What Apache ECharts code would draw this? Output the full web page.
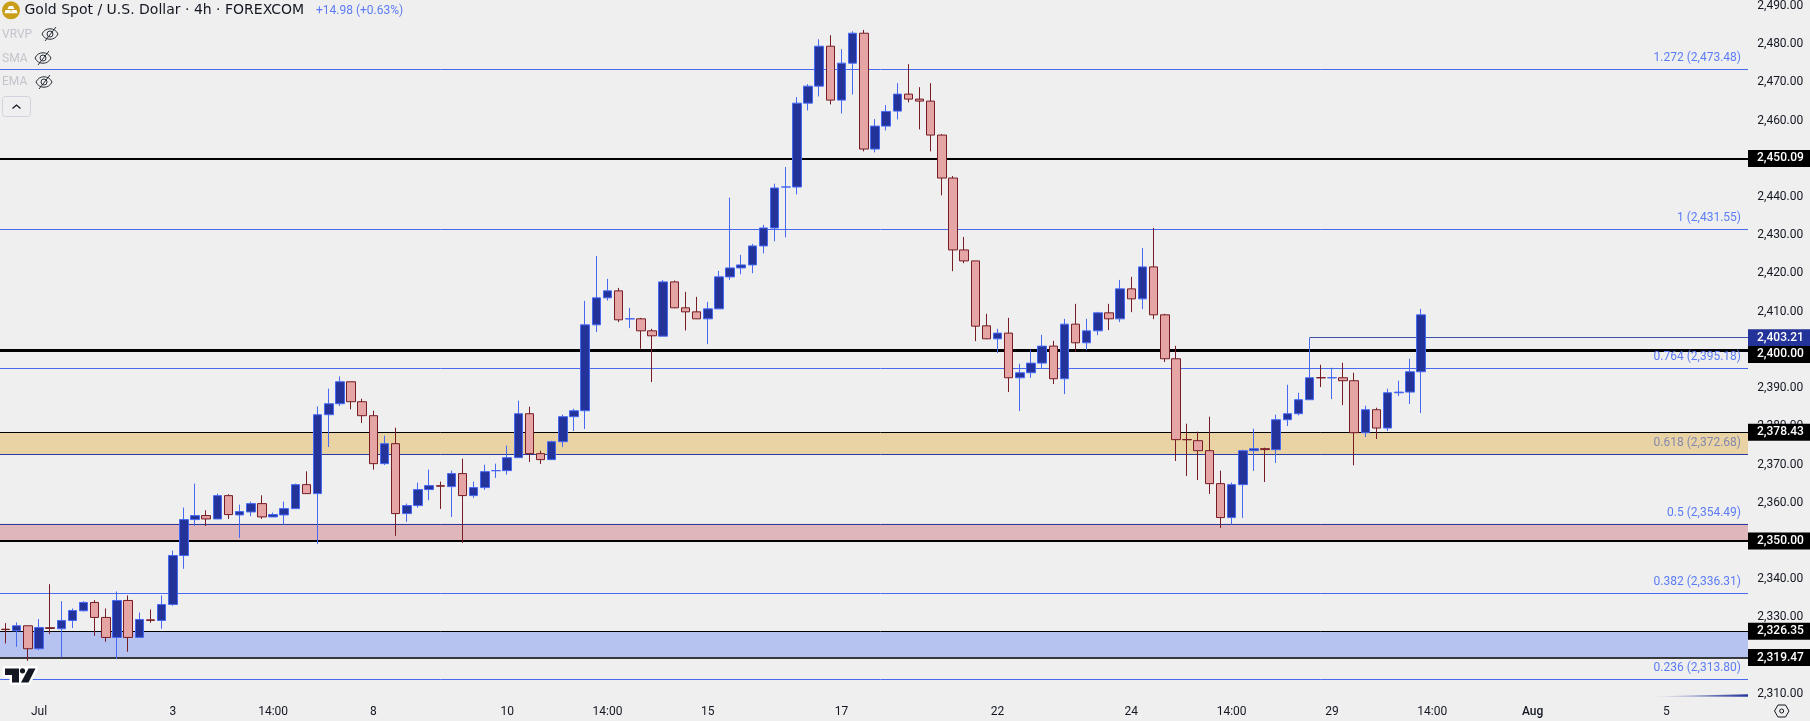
<!DOCTYPE html>
<html><head><meta charset="utf-8">
<style>html,body{margin:0;padding:0;background:#efefef;overflow:hidden}#c{width:1810px;height:721px}</style>
<script src="https://cdn.jsdelivr.net/npm/echarts@6/dist/echarts.min.js"></script>
</head><body><div id="c"></div>
<script>
const opens=[2326.90,2326.49,2327.80,2321.79,2327.30,2327.01,2329.19,2331.72,2333.90,2329.98,
2324.75,2334.42,2324.75,2329.35,2329.19,2333.37,2346.18,2355.59,2356.64,2355.76,
2361.86,2356.81,2357.59,2359.77,2356.29,2356.81,2358.46,2364.74,2362.39,2383.04,
2385.91,2391.66,2386.44,2382.78,2370.23,2375.46,2357.16,2359.26,2363.44,2364.45,
2364.22,2367.62,2361.87,2363.96,2368.36,2368.40,2371.80,2383.30,2372.85,2371.28,
2375.98,2382.52,2384.08,2406.56,2413.62,2415.45,2408.10,2408.13,2404.99,2403.59,
2417.80,2411.01,2409.96,2408.13,2410.74,2419.10,2421.46,2422.24,2427.21,2431.91,
2442.60,2442.63,2464.58,2469.03,2479.48,2465.37,2475.04,2482.88,2452.56,2458.57,
2462.49,2466.94,2465.63,2465.11,2456.22,2444.98,2426.16,2423.29,2406.30,2402.90,
2404.39,2392.71,2394.02,2396.54,2400.99,2392.45,2406.74,2401.86,2404.99,2409.70,
2408.13,2415.97,2413.36,2421.72,2409.18,2397.68,2376.55,2376.24,2373.63,2365.00,
2356.12,2364.74,2373.63,2374.15,2373.89,2381.73,2383.30,2386.96,2392.74,2392.68,
2392.71,2391.93,2378.33,2384.35,2379.55,2388.78,2388.96,2394.28];
const closes=[2326.80,2327.80,2321.79,2327.36,2327.10,2329.19,2331.80,2333.90,2329.98,2324.75,
2334.42,2324.75,2329.45,2329.20,2333.37,2346.18,2355.59,2356.64,2355.76,2361.86,
2356.90,2357.68,2359.77,2356.29,2356.90,2358.46,2364.74,2362.39,2383.03,2385.91,
2391.66,2386.44,2382.78,2370.23,2375.46,2357.16,2359.26,2363.44,2364.48,2364.33,
2367.62,2361.87,2363.96,2368.14,2368.44,2371.80,2383.30,2372.85,2371.28,2375.98,
2382.52,2384.08,2406.56,2413.62,2415.45,2407.87,2408.16,2404.99,2403.69,2417.80,
2411.01,2409.96,2408.13,2410.74,2419.11,2421.46,2422.24,2427.21,2431.91,2442.37,
2442.66,2464.58,2469.03,2479.48,2465.37,2475.04,2482.88,2452.56,2458.57,2462.40,
2466.94,2465.63,2465.11,2456.22,2444.98,2426.16,2423.29,2406.21,2402.90,2404.39,
2392.71,2394.02,2396.54,2400.99,2392.45,2406.74,2401.86,2404.99,2409.70,2408.13,
2415.97,2413.36,2421.72,2409.18,2397.68,2376.51,2376.47,2373.63,2365.00,2356.12,
2364.74,2373.63,2374.15,2373.90,2381.73,2383.30,2386.96,2392.71,2392.68,2392.74,
2391.93,2378.33,2384.35,2379.55,2388.79,2388.95,2394.28,2409.18];
const lows=[2323.18,2322.31,2318.65,2321.44,2325.62,2319.52,2327.19,2331.54,2325.18,2323.62,
2319.08,2321.00,2324.75,2328.58,2327.01,2333.02,2342.70,2353.93,2353.93,2355.76,
2355.76,2350.80,2356.46,2355.76,2356.29,2354.28,2358.46,2362.39,2349.23,2374.59,
2385.30,2384.43,2380.86,2368.66,2369.88,2351.33,2354.99,2358.73,2360.65,2358.38,
2356.29,2349.50,2361.26,2363.35,2366.49,2367.36,2371.80,2370.67,2370.14,2371.28,
2374.59,2378.77,2379.29,2404.65,2412.92,2407.26,2405.69,2400.29,2391.58,2403.59,
2410.92,2405.08,2408.13,2401.51,2410.74,2418.32,2419.80,2420.06,2425.29,2428.43,
2429.47,2440.71,2462.67,2466.33,2464.23,2461.88,2466.85,2451.95,2451.69,2457.44,
2460.31,2464.76,2457.70,2451.95,2440.45,2420.59,2422.68,2402.29,2402.82,2399.16,
2388.96,2384.00,2392.71,2395.06,2391.06,2388.44,2399.59,2399.94,2403.86,2405.17,
2407.26,2409.87,2410.66,2408.04,2396.81,2370.93,2367.01,2365.96,2362.30,2353.42,
2354.29,2356.03,2368.32,2365.44,2370.41,2380.08,2382.86,2386.96,2390.27,2387.13,
2385.57,2369.80,2377.20,2376.68,2378.77,2387.92,2385.83,2383.47];
const highs=[2328.49,2328.67,2327.80,2329.54,2338.69,2334.24,2332.33,2334.24,2334.51,2332.33,
2336.77,2335.73,2331.28,2332.07,2335.73,2347.49,2358.73,2365.00,2358.03,2362.39,
2362.21,2359.51,2360.29,2361.95,2357.42,2360.29,2365.00,2368.22,2385.21,2389.84,
2393.06,2391.66,2387.22,2384.08,2377.55,2379.64,2359.78,2365.27,2368.66,2365.53,
2368.40,2371.54,2365.53,2369.97,2370.23,2374.94,2386.70,2385.13,2373.63,2376.24,
2383.04,2384.61,2412.84,2424.60,2418.59,2416.23,2411.01,2408.39,2405.52,2418.32,
2418.15,2415.19,2413.88,2412.57,2420.68,2439.84,2424.86,2427.73,2432.70,2443.50,
2447.86,2466.15,2469.55,2481.31,2482.36,2478.70,2483.40,2483.75,2460.40,2464.06,
2469.81,2474.78,2468.76,2469.81,2456.48,2445.50,2429.56,2423.29,2409.44,2405.52,
2408.39,2396.37,2400.03,2403.95,2402.38,2408.13,2412.05,2408.13,2409.96,2412.05,
2418.32,2419.11,2426.69,2431.92,2409.44,2401.07,2380.69,2378.60,2382.52,2368.40,
2365.27,2373.89,2379.38,2374.41,2383.04,2390.88,2388.79,2403.21,2396.11,2395.32,
2396.63,2394.02,2385.39,2384.87,2389.84,2391.93,2397.68,2410.74];
const slotCount=158;
const timeTickSlots=[3,15,24,33,45,54,63,75,89,101,110,119,128,137,149];
const timeTickLabels=['Jul','3','14:00','8','10','14:00','15','17','22','24','14:00','29','14:00','Aug','5'];
const priceTicks=[2490,2480,2470,2460,2450,2440,2430,2420,2410,2400,2390,2380,2370,2360,2350,2340,2330,2320,2310];
const fibLevels=[1.272,1,0.764,0.618,0.5,0.382,0.236];
const fibPrices=[2473.48,2431.55,2395.18,2372.68,2354.49,2336.31,2313.80];
const levelPrices=[2450.09,2400.00,2378.43,2350.00,2326.35,2319.47];
const swingHigh=2403.21;
const swingSlot=117;
const bandEdges=[[2378.43,2372.68],[2354.49,2350.00],[2326.35,2319.47]];

const W=1748, H=697, BW=11.173, L=1.33-BW/2, GW=slotCount*BW, GR=L+GW, OVER=GR-W;
const BG='#efefef', FIB='#4a69f2', DARKFIB='#2a3a9e';
const cats=Array.from({length:slotCount},(_,i)=>{const k=timeTickSlots.indexOf(i);return k>=0?timeTickLabels[k]:'';});
const candles=opens.map((o,i)=>[o,closes[i],lows[i],highs[i]]);
const fmt=v=>v.toLocaleString('en-US',{minimumFractionDigits:2,maximumFractionDigits:2});
const bandColors=['#e9d3a5','#dfb6ba','#b6c2ef'];
const levelWidths=[2,3,1,2,1,1.5];

const chart=echarts.init(document.getElementById('c'),null,{renderer:'canvas'});
function hline(v,color,width,label){
  return {yAxis:v,lineStyle:{color,width,type:'solid',opacity:1},label:label||{show:false}};
}
const fibLines=fibPrices.map((v,i)=>{
  const inBand=i===3;
  return hline(v,(i===3||i===4)?DARKFIB:FIB,1,{
    show:true,position:'insideEndTop',formatter:fibLevels[i]+' ('+fmt(v)+')',
    color:inBand?'#8388ad':'#5c7cf6',fontFamily:'Roboto',fontSize:12,
    distance:5,offset:[-(OVER+2),0]
  });
});
const levelLines=levelPrices.map((v,i)=>hline(v,'#000000',levelWidths[i]));
function tag(v,bg,dy){
  return {yAxis:v,lineStyle:{color:'rgba(0,0,0,0)',width:1,type:'solid',opacity:1},label:{
    show:true,position:'end',distance:0,offset:[-OVER,dy||0],formatter:fmt(v),
    color:'#ffffff',fontFamily:'Roboto',fontSize:12,fontWeight:500,backgroundColor:bg,
    padding:[2,8,2,9],lineHeight:13,opacity:1}};
}
const ink='#131722';
function eye(cx,cy){
  const st={fill:'none',stroke:'#2a2e39',lineWidth:1};
  return [
   {type:'bezierCurve',z:40,shape:{x1:cx-8,y1:cy,x2:cx+8,y2:cy,cpx1:cx-5,cpy1:cy-7,cpx2:cx+5,cpy2:cy-7},style:st},
   {type:'bezierCurve',z:40,shape:{x1:cx-8,y1:cy,x2:cx+8,y2:cy,cpx1:cx-5,cpy1:cy+7,cpx2:cx+5,cpy2:cy+7},style:st},
   {type:'circle',z:40,shape:{cx,cy,r:3},style:st},
   {type:'line',z:40,shape:{x1:cx-5,y1:cy+7,x2:cx+6,y2:cy-7},style:{stroke:'#2a2e39',lineWidth:1}}
  ];
}
const txt=(x,y,text,fill,font)=>({type:'text',z:40,x,y,style:{text,fill,font,textVerticalAlign:'middle',textAlign:'left'}});
const logoShapes=[
 {type:'polygon',shape:{points:[[5,668.5],[19,668.5],[19,682.5],[12,682.5],[12,675],[5,675]]}},
 {type:'circle',shape:{cx:22.5,cy:670.8,r:2.6}},
 {type:'polygon',shape:{points:[[28.5,668.5],[35.5,668.5],[28.5,682.5],[21,682.5]]}}
];
const graphics=[
 {type:'rect',z:10,shape:{x:W,y:0,width:62,height:721},style:{fill:BG}},
 ...logoShapes.map(s=>Object.assign({},s,{z:40,style:{fill:'#fff',stroke:'#fff',lineWidth:5,lineJoin:'round'}})),
 ...logoShapes.map(s=>Object.assign({},s,{z:41,style:{fill:'#131722'}})),
 {type:'circle',z:40,shape:{cx:11,cy:10.3,r:9},style:{fill:'#c99f1a'}},
 {type:'polygon',z:41,shape:{points:[[9,6],[13,6],[14.5,9],[7.5,9]]},style:{fill:'#fff'}},
 {type:'polygon',z:41,shape:{points:[[5.5,10],[10.5,10],[11,13.2],[4.5,13.2]]},style:{fill:'#fff'}},
 {type:'polygon',z:41,shape:{points:[[11.5,10],[16.5,10],[17.5,13.2],[11,13.2]]},style:{fill:'#fff'}},
 txt(24.5,10.5,'Gold Spot / U.S. Dollar · 4h · FOREXCOM','#131722','400 14px "DejaVu Sans"'),
 txt(316,10.5,'+14.98 (+0.63%)','#5c7cf6','400 12px Roboto'),
 txt(2,35,'VRVP','#c3c5cc','400 12px Roboto'),
 txt(2,58.5,'SMA','#c3c5cc','400 12px Roboto'),
 txt(2,82,'EMA','#c3c5cc','400 12px Roboto'),
 ...eye(50,34),...eye(43,58),...eye(44,82),
 {type:'rect',z:40,shape:{x:2.5,y:96.5,width:28,height:20,r:3},style:{fill:'none',stroke:'#d1d4dc',lineWidth:1}},
 {type:'polyline',z:40,shape:{points:[[12.5,108.5],[16.5,105],[20.5,108.5]]},style:{fill:'none',stroke:'#131722',lineWidth:1.2}},
 {type:'polygon',z:9,shape:{points:[[1648,696.6],[1748,694.2],[1748,696.8]]},style:{fill:new echarts.graphic.LinearGradient(0,0,1,0,[{offset:0,color:'rgba(35,51,153,0)'},{offset:1,color:'#233399'}])}},
 {type:'polygon',z:40,shape:{points:[[1774.5,711],[1778,705],[1785.5,705],[1789,711],[1785.5,717],[1778,717]]},style:{fill:'none',stroke:'#131722',lineWidth:1}},
 {type:'circle',z:40,shape:{cx:1781.7,cy:711,r:2},style:{fill:'none',stroke:'#131722',lineWidth:1}}
];
chart.setOption({
 animation:false,backgroundColor:BG,
 textStyle:{fontFamily:'Roboto'},
 grid:{left:L,top:0,width:GW,height:H,containLabel:false},
 xAxis:{type:'category',data:cats,boundaryGap:true,
  axisLine:{show:false},axisTick:{show:false},splitLine:{show:false},
  axisLabel:{interval:(i,v)=>v!=='',margin:9,color:ink,fontFamily:'Roboto',fontSize:12,hideOverlap:false,
   formatter:v=>v==='Aug'?'{b|Aug}':v,rich:{b:{fontWeight:500,fontFamily:'Roboto',fontSize:12,color:ink}}}},
 yAxis:{type:'value',position:'right',min:2309.16,max:2491.33,scale:true,z:20,
  axisLine:{show:false},axisTick:{show:false},splitLine:{show:false},
  axisLabel:{customValues:priceTicks,margin:-3.8,color:ink,fontFamily:'Roboto',fontSize:12,formatter:fmt,showMinLabel:true,showMaxLabel:true}},
 graphic:{elements:graphics},
 series:[
  {name:'bands',type:'line',z:1,data:[],silent:true,
   markArea:{silent:true,z:1,data:bandEdges.map((b,i)=>[{yAxis:b[0],itemStyle:{color:bandColors[i],opacity:1}},{yAxis:b[1]}])}},
  {name:'levels',type:'line',z:2,data:[],silent:true,
   markLine:{silent:true,symbol:'none',animation:false,data:[...fibLines,...levelLines,
    [{coord:[swingSlot,swingHigh],lineStyle:{color:'#3b50ab',width:1,type:'solid'},label:{show:false}},{coord:[slotCount-1,swingHigh]}]]}},
  {name:'XAUUSD',type:'candlestick',z:5,data:candles,barWidth:9,clip:true,
   itemStyle:{color:'#233399',color0:'#e5a5a5',borderColor:'#4669f5',borderColor0:'#751c24',borderWidth:1}},
  {name:'tags',type:'line',z:30,data:[],silent:true,
   markLine:{silent:true,symbol:'none',animation:false,z:30,data:[
    tag(2450.09,'#000'),tag(swingHigh,'#233399'),tag(2400,'#000',4.5),tag(2378.43,'#000'),tag(2350,'#000'),tag(2326.35,'#000'),tag(2319.47,'#000')]}}
 ]
});
</script></body></html>
